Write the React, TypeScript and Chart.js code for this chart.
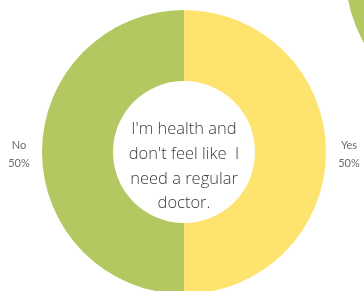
import React, { useEffect, useRef } from "react";
import { Chart, registerables } from "chart.js";

Chart.register(...registerables);

const categories = ["Yes", "No"];
const values = [50, 50];
const sliceColors = ["#fee46f", "#b4c862"];
const centerLines = ["I'm health and", "don't feel like  I", "need a regular", "doctor."];

const sideCategories = ["Other"];
const sideValues = [100];
const sideColors = ["#b4c862"];

const LABEL_FONT = "Lato, 'Open Sans', sans-serif";
const CENTER_FONT = "'Open Sans', 'Noto Sans', sans-serif";

const labelPlugin = {
  id: "outerLabels",
  afterDatasetsDraw(chart: any) {
    const ctx = chart.ctx;
    const meta = chart.getDatasetMeta(0);
    const total = values.reduce((a, b) => a + b, 0);
    ctx.save();
    ctx.fillStyle = "#6b6b6b";
    ctx.font = `11px ${LABEL_FONT}`;
    ctx.textAlign = "center";
    ctx.textBaseline = "alphabetic";
    meta.data.forEach((arc: any, i: number) => {
      const p = arc.getProps(["x", "y", "startAngle", "endAngle", "outerRadius"], true);
      const mid = (p.startAngle + p.endAngle) / 2;
      const r = p.outerRadius + 23;
      const x = p.x + Math.cos(mid) * r;
      const y = p.y + Math.sin(mid) * r;
      const pct = Math.round((values[i] / total) * 100) + "%";
      ctx.fillText(categories[i], x, y - 3);
      ctx.fillText(pct, x, y + 14.5);
    });
    const a0 = meta.data[0];
    const cx = a0.x;
    const cy = a0.y;
    ctx.fillStyle = "#3a3a3a";
    ctx.font = `300 16.5px ${CENTER_FONT}`;
    const offsets = [-18, 7, 32, 56];
    centerLines.forEach((line, i) => {
      ctx.fillText(line, cx, cy + offsets[i]);
    });
    ctx.restore();
  },
};

export default function App() {
  const mainRef = useRef<HTMLCanvasElement>(null);
  const sideRef = useRef<HTMLCanvasElement>(null);

  useEffect(() => {
    const main = new Chart(mainRef.current!, {
      type: "doughnut",
      data: {
        labels: categories,
        datasets: [
          {
            data: values,
            backgroundColor: sliceColors,
            borderWidth: 0,
          },
        ],
      },
      options: {
        responsive: false,
        animation: false,
        devicePixelRatio: 1,
        cutout: "50%",
        layout: { padding: 10 },
        plugins: { legend: { display: false }, tooltip: { enabled: false } },
      },
      plugins: [labelPlugin],
    });
    const side = new Chart(sideRef.current!, {
      type: "pie",
      data: {
        labels: sideCategories,
        datasets: [
          {
            data: sideValues,
            backgroundColor: sideColors,
            borderWidth: 0,
          },
        ],
      },
      options: {
        responsive: false,
        animation: false,
        devicePixelRatio: 1,
        layout: { padding: 0 },
        plugins: { legend: { display: false }, tooltip: { enabled: false } },
      },
    });
    return () => {
      main.destroy();
      side.destroy();
    };
  }, []);

  return (
    <div
      style={{
        position: "fixed",
        left: 0,
        top: 0,
        width: 364,
        height: 291,
        overflow: "hidden",
        background: "#ffffff",
      }}
    >
      <canvas
        ref={mainRef}
        width={368}
        height={304}
        style={{ position: "absolute", left: 0, top: 0, width: 368, height: 304 }}
      />
      <canvas
        ref={sideRef}
        width={300}
        height={300}
        style={{ position: "absolute", left: 345, top: -180, width: 300, height: 300 }}
      />
    </div>
  );
}
